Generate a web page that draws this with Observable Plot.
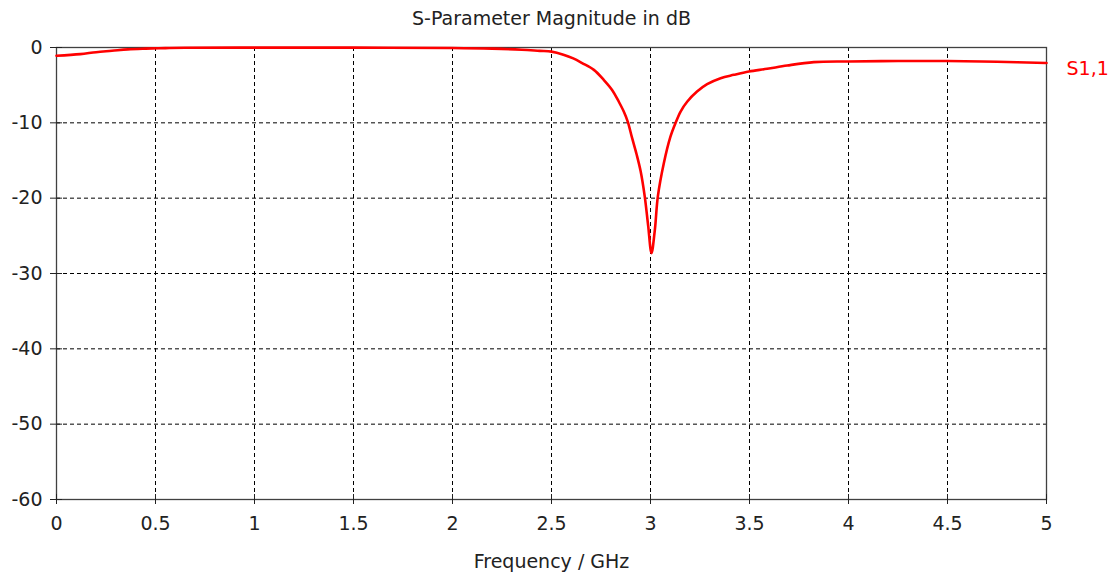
<!DOCTYPE html>
<html>
<head>
<meta charset="utf-8">
<script src="https://cdn.jsdelivr.net/npm/d3@7"></script>
<script src="https://cdn.jsdelivr.net/npm/@observablehq/plot@0.6"></script>
<style>
  html, body { margin: 0; padding: 0; background: #fff; }
  #chart svg { display: block; }
</style>
</head>
<body>
<div id="chart"></div>
<script>
// Frequency (GHz) and |S1,1| (dB)
const freq = [0, 0.12, 0.2, 0.28, 0.36, 0.45, 0.55, 0.65, 1.0, 1.5, 2.0, 2.2, 2.35, 2.44, 2.5, 2.56, 2.61, 2.655, 2.714, 2.764, 2.806, 2.84, 2.865, 2.885, 2.907, 2.93, 2.95, 2.971, 2.988, 3.005, 3.022, 3.037, 3.067, 3.1, 3.126, 3.152, 3.185, 3.235, 3.286, 3.354, 3.421, 3.497, 3.589, 3.69, 3.825, 4.0, 4.25, 4.5, 4.75, 5.0];
const s11 = [-1.1, -0.88, -0.62, -0.44, -0.25, -0.15, -0.08, -0.03, -0.02, -0.02, -0.06, -0.15, -0.3, -0.45, -0.55, -0.95, -1.45, -2.07, -2.97, -4.3, -5.63, -7.2, -8.5, -9.84, -12.0, -14.2, -16.4, -19.8, -23.6, -27.3, -24.2, -19.8, -15.4, -11.9, -10.05, -8.5, -7.2, -5.85, -4.87, -4.07, -3.63, -3.19, -2.83, -2.39, -1.94, -1.86, -1.8, -1.8, -1.9, -2.05];
const xTicks = [0, 0.5, 1, 1.5, 2, 2.5, 3, 3.5, 4, 4.5, 5];
const yTicks = [0, -10, -20, -30, -40, -50, -60];
const title = "S-Parameter Magnitude in dB";
const xLabel = "Frequency / GHz";
const seriesName = "S1,1";

const data = freq.map((f, i) => ({f, db: s11[i]}));

const chart = Plot.plot({
  width: 1116,
  height: 574,
  marginLeft: 56,
  marginRight: 70,
  marginTop: 47,
  marginBottom: 75,
  style: {fontFamily: "DejaVu Sans", fontSize: "19px", color: "#222", background: "#fff"},
  x: {domain: [0, 5], ticks: xTicks, label: null},
  y: {domain: [-60, 0], ticks: yTicks, label: null},
  marks: [
    Plot.gridX(xTicks, {stroke: "#000", strokeOpacity: 1, strokeDasharray: "4,3", strokeWidth: 1}),
    Plot.gridY(yTicks, {stroke: "#000", strokeOpacity: 1, strokeDasharray: "4,3", strokeWidth: 1}),
    Plot.frame({stroke: "#404040", strokeWidth: 1.3}),
    Plot.axisX(xTicks, {tickSize: 10, dy: -5, tickPadding: 12, stroke: "#222", fill: "#222", fontSize: 19, tickFormat: d => String(d), label: null}),
    Plot.axisY(yTicks, {tickSize: 12, dx: 6, tickPadding: 8, stroke: "#222", fill: "#222", fontSize: 19, tickFormat: d => String(d), label: null}),
    Plot.line(data, {x: "f", y: "db", stroke: "#ff0000", strokeWidth: 2.6, curve: "catmull-rom"}),
    Plot.text([title], {frameAnchor: "top", dy: -29, lineAnchor: "middle", fill: "#222", fontSize: 19}),
    Plot.text([xLabel], {frameAnchor: "bottom", dy: 62, lineAnchor: "middle", fill: "#222", fontSize: 19}),
    Plot.text([seriesName], {frameAnchor: "top-right", dx: 20, dy: 21, textAnchor: "start", lineAnchor: "middle", fill: "#ff0000", fontSize: 19})
  ]
});
document.getElementById("chart").appendChild(chart);
</script>
</body>
</html>
